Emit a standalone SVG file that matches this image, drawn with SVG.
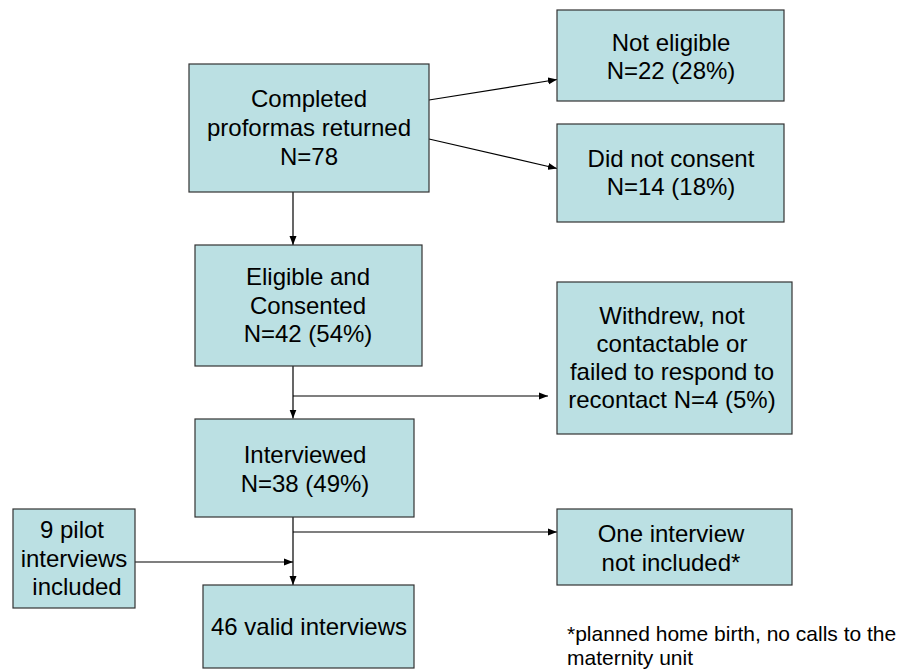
<svg xmlns="http://www.w3.org/2000/svg" width="905" height="669" viewBox="0 0 905 669">
<style>
.box{fill:#BBE0E3;stroke:#333;stroke-width:1.2}
.t{font-family:"Liberation Sans",Arial,sans-serif;font-size:24px;fill:#000;text-anchor:middle}
.fn{font-family:"Liberation Sans",Arial,sans-serif;font-size:21px;fill:#000}
.c{stroke:#000;stroke-width:1.2;fill:none}
</style>
<defs>
<marker id="ah" markerUnits="userSpaceOnUse" markerWidth="10" markerHeight="8" refX="9" refY="4" orient="auto">
<path d="M0,0.5 L9,4 L0,7.5 z" fill="#000"/>
</marker>
</defs>
<rect width="905" height="669" fill="#fff"/>
<g id="connectors">
<line class="c" x1="429" y1="100" x2="557" y2="79.5" marker-end="url(#ah)"/>
<line class="c" x1="429" y1="139" x2="557" y2="168.5" marker-end="url(#ah)"/>
<line class="c" x1="293" y1="192" x2="293" y2="245" marker-end="url(#ah)"/>
<line class="c" x1="293" y1="366" x2="293" y2="418.5" marker-end="url(#ah)"/>
<line class="c" x1="293" y1="396" x2="548" y2="396" marker-end="url(#ah)"/>
<line class="c" x1="293" y1="517" x2="293" y2="585" marker-end="url(#ah)"/>
<line class="c" x1="293" y1="532" x2="557" y2="532" marker-end="url(#ah)"/>
<line class="c" x1="135" y1="562" x2="293" y2="562" marker-end="url(#ah)"/>
</g>
<g id="completed">
<rect class="box" x="189" y="64" width="240" height="128"/>
<text class="t" x="309" y="107">Completed</text>
<text class="t" x="309" y="136">proformas returned</text>
<text class="t" x="309" y="165">N=78</text>
</g>
<g id="not-eligible">
<rect class="box" x="557" y="10" width="227" height="91"/>
<text class="t" x="671" y="51">Not eligible</text>
<text class="t" x="671" y="79">N=22 (28%)</text>
</g>
<g id="did-not-consent">
<rect class="box" x="557" y="124" width="227" height="98"/>
<text class="t" x="671" y="167">Did not consent</text>
<text class="t" x="671" y="195">N=14 (18%)</text>
</g>
<g id="eligible">
<rect class="box" x="195" y="245" width="227" height="121"/>
<text class="t" x="308" y="285">Eligible and</text>
<text class="t" x="308" y="314">Consented</text>
<text class="t" x="308" y="342">N=42 (54%)</text>
</g>
<g id="withdrew">
<rect class="box" x="557" y="282" width="235" height="152"/>
<text class="t" x="672" y="324">Withdrew, not</text>
<text class="t" x="672" y="352">contactable or</text>
<text class="t" x="672" y="380">failed to respond to</text>
<text class="t" x="672" y="408">recontact N=4 (5%)</text>
</g>
<g id="interviewed">
<rect class="box" x="195" y="419" width="219" height="98"/>
<text class="t" x="305" y="463">Interviewed</text>
<text class="t" x="305" y="492">N=38 (49%)</text>
</g>
<g id="pilot">
<rect class="box" x="13" y="509" width="122" height="99"/>
<text class="t" x="72" y="538">9 pilot</text>
<text class="t" x="74" y="567">interviews</text>
<text class="t" x="77" y="595">included</text>
</g>
<g id="one-interview">
<rect class="box" x="557" y="509" width="235" height="76"/>
<text class="t" x="671" y="542">One interview</text>
<text class="t" x="671" y="571">not included*</text>
</g>
<g id="valid">
<rect class="box" x="203" y="585" width="211" height="83"/>
<text class="t" x="309" y="635">46 valid interviews</text>
</g>
<g id="footnote">
<text class="fn" x="567" y="641">*planned home birth, no calls to the</text>
<text class="fn" x="567" y="665">maternity unit</text>
</g>
</svg>
